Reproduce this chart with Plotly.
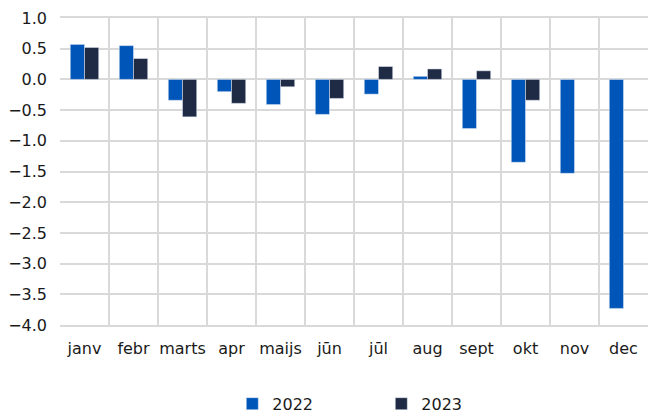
import plotly.graph_objects as go

# monthly values
months = ['janv', 'febr', 'marts', 'apr', 'maijs', 'jūn', 'jūl', 'aug', 'sept', 'okt', 'nov', 'dec']
values_2022 = [0.57, 0.55, -0.34, -0.20, -0.41, -0.57, -0.24, 0.05, -0.80, -1.35, -1.53, -3.73]
values_2023 = [0.52, 0.34, -0.61, -0.39, -0.12, -0.31, 0.21, 0.17, 0.14, -0.34, None, None]

font_name = 'DejaVu Sans'
grid_color = '#d9d9d9'

fig = go.Figure()
fig.add_trace(go.Bar(x=months, y=values_2022, name='2022', marker=dict(color='#0055b8')))
fig.add_trace(go.Bar(x=months, y=values_2023, name='2023', marker=dict(color='#1f2a44')))

# the page body adds an 8px offset, so margins are shifted to compensate
fig.update_layout(
    width=656, height=414,
    margin=dict(l=52, r=16, t=10, b=97, autoexpand=False),
    paper_bgcolor='white', plot_bgcolor='white',
    barmode='group', bargap=0.42, bargroupgap=0,
    font=dict(family=font_name, size=16, color='#1a1a1a'),
    showlegend=True,
    legend=dict(orientation='h', x=0.293, xanchor='left', yref='container', y=0.044, yanchor='middle',
                entrywidth=104, font=dict(size=16), itemwidth=30),
)
fig.update_xaxes(type='category', tickson='boundaries', showgrid=True, gridcolor=grid_color, gridwidth=1.5,
                 ticks='', showline=True, linecolor=grid_color, linewidth=1.5, mirror=True,
                 tickangle=0, ticklabelstandoff=8, automargin=False)
fig.update_yaxes(range=[-4.0, 1.0], dtick=0.5, tickformat='.1f', showgrid=True, gridcolor=grid_color,
                 gridwidth=1.5, zeroline=True, zerolinecolor=grid_color, zerolinewidth=1.5,
                 showline=False, ticks='', ticklabelstandoff=12, ticklabeloverflow='allow',
                 automargin=False)

fig.write_html("out.html")
